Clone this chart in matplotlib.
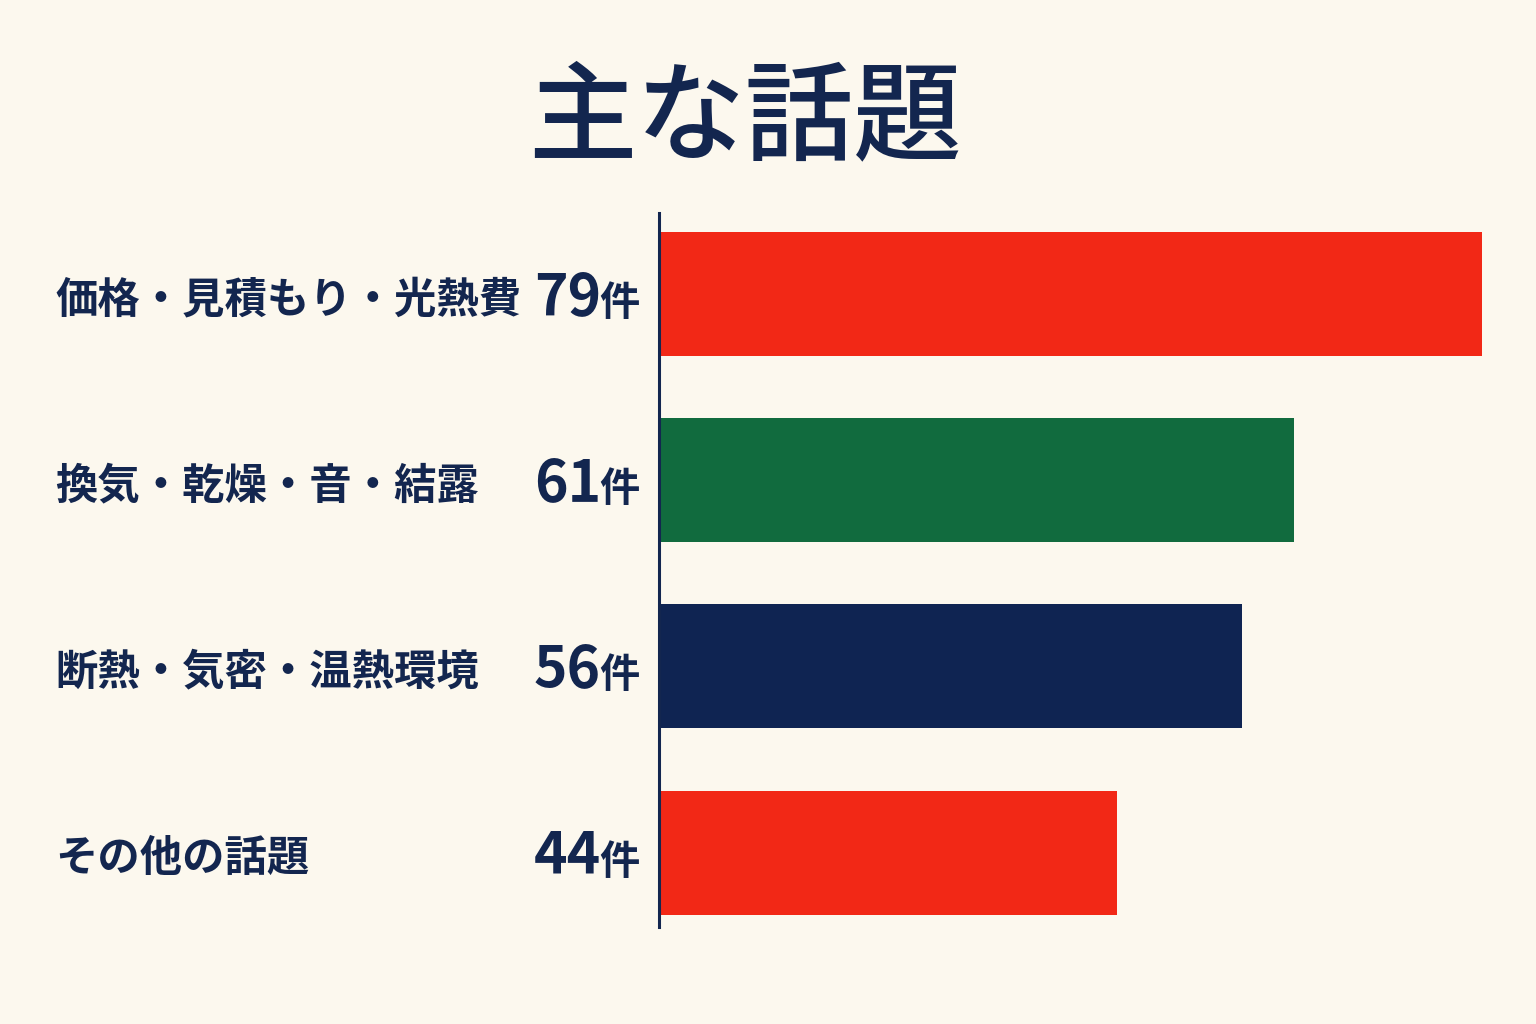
import matplotlib
matplotlib.use("Agg")
import matplotlib.pyplot as plt

plt.rcParams['font.family'] = ['Noto Sans CJK JP', 'DejaVu Sans']

title = "主な話題"
categories = ["価格・見積もり・光熱費", "換気・乾燥・音・結露", "断熱・気密・温熱環境", "その他の話題"]
values = [79, 61, 56, 44]
unit = "件"
bar_colors = ["#F22816", "#116B3E", "#0F2452", "#F22816"]

BG = "#FCF8EE"
NAVY = "#13264F"

fig = plt.figure(figsize=(15.36, 10.24), dpi=100, facecolor=BG)
ax = fig.add_axes([659/1536, 1-927/1024, 875/1536, 714/1024])
ax.set_facecolor(BG)

ypos = list(range(len(values)))
ax.barh(ypos, values, height=0.666, color=bar_colors, zorder=2)
ax.set_xlim(0, 84)
ax.set_ylim(3.40, -0.435)

for s in ["top", "right", "bottom"]:
    ax.spines[s].set_visible(False)
ax.spines["left"].set_color(NAVY)
ax.spines["left"].set_linewidth(2.2)
ax.set_xticks([])
ax.set_yticks([])

px = 0.72  # points per pixel at dpi 100
for i, (cat, v) in enumerate(zip(categories, values)):
    ax.annotate(cat, xy=(0, i), xycoords=('axes fraction', 'data'),
                xytext=(-604*px, -18*px), textcoords='offset points',
                ha='left', va='baseline', fontsize=30.5, fontweight='bold',
                color=NAVY, annotation_clip=False)
    ax.annotate(str(v), xy=(0, i), xycoords=('axes fraction', 'data'),
                xytext=(-58*px, -21*px), textcoords='offset points',
                ha='right', va='baseline', fontsize=41, fontweight='bold',
                color=NAVY, annotation_clip=False)
    ax.annotate(unit, xy=(0, i), xycoords=('axes fraction', 'data'),
                xytext=(-19*px, -21*px), textcoords='offset points',
                ha='right', va='baseline', fontsize=29, fontweight='bold',
                color=NAVY, annotation_clip=False)

fig.text(745/1536, 1-120/1024, title, ha='center', va='center',
         fontsize=78, fontweight='medium', color=NAVY)

fig.savefig("out.png", dpi=100, facecolor=BG)
